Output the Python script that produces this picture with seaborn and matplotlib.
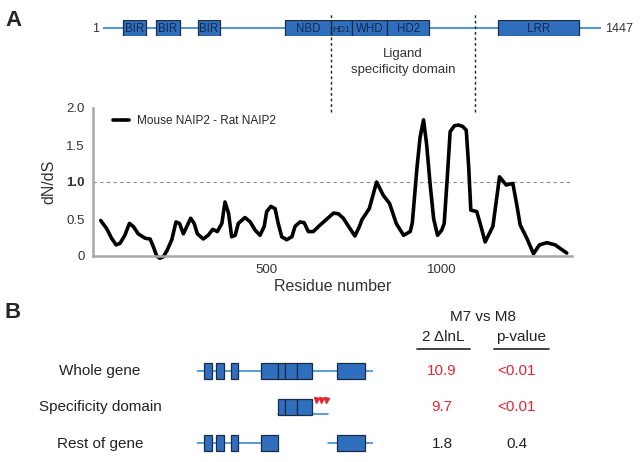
import matplotlib
matplotlib.use("Agg")
import matplotlib.pyplot as plt
import matplotlib.transforms as mtransforms
import seaborn as sns
import numpy as np
import pandas as pd

# dN/dS sliding window, mouse NAIP2 vs rat NAIP2
residue = [26, 43, 57, 70, 81, 95, 108, 119, 133, 153, 167, 176, 186, 195, 205, 216, 229,
           241, 251, 262, 272, 283, 293, 302, 319, 333, 346, 359, 372, 381, 391, 400, 410,
           419, 438, 453, 467, 481, 493, 500, 512, 524, 533, 543, 557, 572, 581, 595, 607,
           619, 633, 653, 672, 691, 705, 719, 738, 752, 765, 772, 793, 814, 833, 851, 870,
           891, 910, 916, 929, 938, 948, 957, 967, 977, 988, 1000, 1007, 1015, 1024, 1036,
           1048, 1060, 1070, 1077, 1083, 1100, 1112, 1124, 1146, 1156, 1165, 1184, 1203,
           1214, 1224, 1243, 1262, 1279, 1300, 1324, 1357]
dnds = [0.48, 0.37, 0.24, 0.15, 0.17, 0.28, 0.44, 0.40, 0.30, 0.24, 0.23, 0.13, 0.00, -0.03,
        -0.01, 0.08, 0.22, 0.46, 0.44, 0.30, 0.40, 0.51, 0.44, 0.30, 0.23, 0.28, 0.36, 0.33,
        0.44, 0.73, 0.58, 0.26, 0.28, 0.44, 0.52, 0.46, 0.35, 0.28, 0.40, 0.60, 0.67, 0.64,
        0.44, 0.26, 0.22, 0.26, 0.40, 0.46, 0.45, 0.33, 0.33, 0.42, 0.50, 0.58, 0.57, 0.51,
        0.37, 0.27, 0.40, 0.49, 0.64, 1.00, 0.82, 0.71, 0.44, 0.28, 0.33, 0.45, 1.18, 1.60,
        1.84, 1.50, 0.96, 0.50, 0.28, 0.35, 0.44, 1.00, 1.68, 1.76, 1.77, 1.75, 1.70, 1.20,
        0.62, 0.60, 0.40, 0.19, 0.40, 0.75, 1.07, 0.96, 0.98, 0.70, 0.42, 0.24, 0.03, 0.15,
        0.18, 0.15, 0.04]
series_label = "Mouse NAIP2 - Rat NAIP2"

# NAIP2 domain architecture (residues)
protein_length = 1447
domain_names = ["BIR", "BIR", "BIR", "NBD", "HD1", "WHD", "HD2", "LRR"]
domain_start = [59, 155, 277, 529, 663, 724, 826, 1148]
domain_end = [126, 225, 341, 663, 724, 826, 948, 1383]
spec_start, spec_end = 663, 1081
selected_sites = [979, 1020, 1061]

# M7 vs M8 test
row_labels = ["Whole gene", "Specificity domain", "Rest of gene"]
delta_lnl = ["10.9", "9.7", "1.8"]
p_values = ["<0.01", "<0.01", "0.4"]
significant = [True, True, False]

sns.set_theme(style="white")
plt.rcParams["font.family"] = ["Liberation Sans", "DejaVu Sans"]

W, H = 641, 462
fig = plt.figure(figsize=(W / 100, H / 100), dpi=100)


def fx(px):
    return px / W


def fy(py):
    return 1 - py / H


box_color = "#2f6fbd"
edge_color = "#1c2b45"
line_color = "#3b8fd6"
red = "#e2262e"
grey = "#a8a8a8"
text_color = "#222222"

# ---- panel A: dN/dS curve
ax = fig.add_axes([fx(93), fy(256), fx(572) - fx(93), fy(108) - fy(256)])
df = pd.DataFrame({"residue": residue, "dnds": dnds})
sns.lineplot(data=df, x="residue", y="dnds", ax=ax, color="black", linewidth=2.6,
             label=series_label, sort=False)
for l in ax.lines:
    l.set_clip_on(False)
    l.set_solid_joinstyle("round")
ax.axhline(1.0, color="#8a8a8a", lw=0.8, ls=(0, (3, 3)), zorder=0)
ax.set_xlim(4, 1372)
ax.set_ylim(0, 2.0)
ax.set_yticks([0, 0.5, 1.0, 1.5, 2.0])
ax.set_yticklabels(["0", "0.5", "1.0", "1.5", "2.0"])
ax.get_yticklabels()[2].set_fontweight("bold")
ax.set_xticks([500, 1000])
sns.despine(ax=ax)
for s in ["left", "bottom"]:
    ax.spines[s].set_color(grey)
    ax.spines[s].set_linewidth(1.8)
ax.tick_params(length=3, width=1, color=grey, labelsize=9.5, labelcolor="#333333", pad=3)
ax.set_xlabel("Residue number", fontsize=11.5, color="#333333", labelpad=2)
ax.set_ylabel("dN/dS", fontsize=11.5, color="#333333", labelpad=7)
ax.legend(loc="upper left", bbox_to_anchor=(0.042, 0.95), frameon=False, fontsize=8.5,
          handlelength=1.35, handletextpad=0.7, borderpad=0, borderaxespad=0)

# ---- panel A: domain diagram
ax_top = fig.add_axes([fx(103), fy(36), fx(601) - fx(103), fy(20) - fy(36)])
ax_top.set_xlim(1, protein_length)
ax_top.set_ylim(0, 1)
ax_top.axis("off")
ax_top.plot([1, protein_length], [0.5, 0.5], color=line_color, lw=1.3, zorder=1)
starts = np.array(domain_start)
ends = np.array(domain_end)
ax_top.barh(0.5, ends - starts, left=starts, height=1, color=box_color,
            edgecolor=edge_color, linewidth=0.9, zorder=2)
for name, s, e in zip(domain_names, domain_start, domain_end):
    ax_top.text((s + e) / 2, 0.5, name, ha="center", va="center_baseline", zorder=3,
                fontsize=6.5 if name == "HD1" else 8.3, color="#13294b")
ax_top.annotate("1", (1, 0.5), xytext=(-3, 0), textcoords="offset points",
                ha="right", va="center_baseline", fontsize=9, color="#333333")
ax_top.annotate(str(protein_length), (protein_length, 0.5), xytext=(3, 0),
                textcoords="offset points", ha="left", va="center_baseline", fontsize=9,
                color="#333333")
blend = mtransforms.blended_transform_factory(ax_top.transData, fig.transFigure)
ax_top.vlines([spec_start, spec_end], fy(112), fy(12), transform=blend, colors="#222222",
              lw=1.0, ls=(0, (2, 2)), zorder=4, clip_on=False)
ax_top.text((spec_start + spec_end) / 2, fy(62), "Ligand\nspecificity domain",
            transform=blend, ha="center", va="center", fontsize=9.5,
            linespacing=1.45, color="#333333")

fig.text(fx(14), fy(21), "A", fontsize=16, fontweight="bold", ha="center", va="center")
fig.text(fx(13), fy(312), "B", fontsize=16, fontweight="bold", ha="center", va="center")

# ---- panel B: gene fragments tested
ax_b = fig.add_axes([fx(197), fy(461), fx(373) - fx(197), fy(353) - fy(461)])
ax_b.set_xlim(1, protein_length)
ax_b.set_ylim(2.5, -0.5)
ax_b.axis("off")
in_spec = (starts >= spec_start) & (ends <= spec_end)
row_domains = [np.ones_like(in_spec), in_spec, ~in_spec]
row_lines = [[(1, protein_length, 0)], [(spec_start, spec_end, 0.2)],
             [(1, spec_start, 0), (spec_end, protein_length, 0)]]
for i, (mask, segs) in enumerate(zip(row_domains, row_lines)):
    for a, b, off in segs:
        ax_b.plot([a, b], [i + off, i + off], color=line_color, lw=1.2, zorder=1)
    ax_b.barh(i, (ends - starts)[mask], left=starts[mask], height=0.47, color=box_color,
              edgecolor=edge_color, linewidth=0.9, zorder=2)
ax_b.plot(selected_sites, [0.8] * len(selected_sites), ls="none", marker="v",
          markersize=3.6, color=red, clip_on=False, zorder=3)

row_y = [371, 407, 444]
for lab, d, p, sig, y in zip(row_labels, delta_lnl, p_values, significant, row_y):
    c = red if sig else text_color
    fig.text(fx(100), fy(y), lab, fontsize=11, ha="center", va="center", color=text_color)
    fig.text(fx(442), fy(y), d, fontsize=11, ha="center", va="center", color=c)
    fig.text(fx(517), fy(y), p, fontsize=11, ha="center", va="center", color=c)

fig.text(fx(483), fy(317), "M7 vs M8", fontsize=11, ha="center", va="center", color=text_color)
fig.text(fx(443), fy(337), "2 \u0394lnL", fontsize=11, ha="center", va="center", color=text_color)
fig.text(fx(521), fy(337), "p-value", fontsize=11, ha="center", va="center", color=text_color)
for a, b in [(417, 470), (494, 549)]:
    fig.add_artist(plt.Line2D([fx(a), fx(b)], [fy(349), fy(349)], color=text_color, lw=1.2))

fig.savefig("out.png", dpi=100)
